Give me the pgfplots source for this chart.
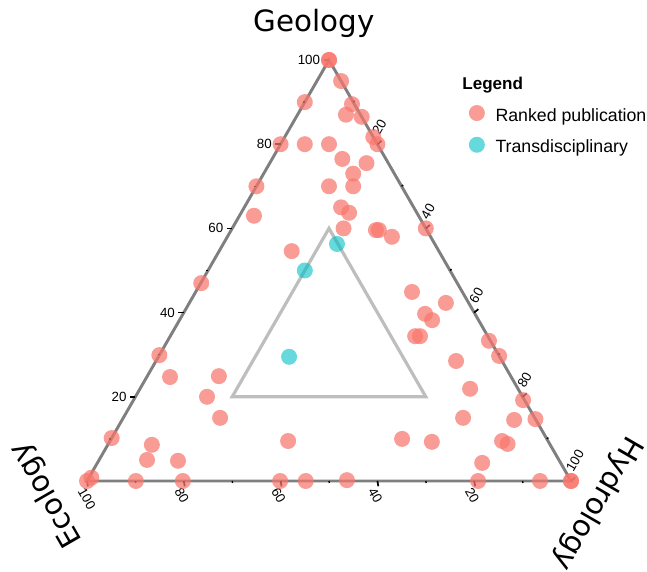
\documentclass[border=0pt]{standalone}
\usepackage{fontspec}
\setmainfont{Liberation Sans}
\newfontfamily\titlefont{DejaVu Sans}
\usepackage{pgfplots}
\usepackage{pgfplotstable}
\pgfplotsset{compat=1.18}

\definecolor{ranked}{HTML}{F8766D}
\definecolor{trans}{HTML}{00BFC4}
\definecolor{edgegray}{HTML}{7F7F7F}
\definecolor{innergray}{HTML}{BEBEBE}

% Ternary data: Geology (G), Ecology (E), Hydrology (H), in percent
\pgfplotstableread{
G E H
100 0 0
100 0 0
95 0 5
90 10 0
89.5 0.5 10
87 3 10
86.5 0 13.5
81.7 0 18.3
80 0 20
80 20 0
80 15 5
80 10 10
76.5 9 14.5
75.5 4.5 20
73 8.5 18.5
70 10 20
70 15 15
70 30 0
63 34 3
65 15 20
63.7 14 22.3
60 17 23
59.6 10.5 29.9
59.6 9.9 30.5
58 8 34
54.6 30.4 15
60 0 40
44.9 10.4 44.7
42.3 4.7 53
39.7 10.3 50
38.2 9.6 52.2
34.4 15 50.6
34.4 14 51.6
33.3 0.3 66.4
29.7 0 70.3
28.5 9.5 62
21.9 9.9 68.2
19.2 0.3 80.5
15 14.8 70.2
14.5 4.5 81
14.7 0 85.3
9.3 24.1 66.6
9.5 9.5 81
8.8 8.7 82.5
4.3 16.2 79.5
0 19.2 80.8
0 6.4 93.6
0 0 100
0 0 100
10 29.9 60.1
9.5 53.7 36.8
0 60.1 39.9
0 54.8 45.2
0.2 46.2 53.6
47 52.9 0.1
29.9 70.1 0
24.7 70.5 4.8
24.9 60.3 14.8
20 65.2 14.8
15 65 20
10.2 89.8 0
8.6 82.3 9.1
5 85.1 9.9
4.8 78.8 16.4
0 89.9 10.1
0 80.2 19.8
0 100 0
0.8 98.7 0.5
}\rankedtable

\pgfplotstableread{
G E H
56.3 20.2 23.5
50 30 20
29.5 43.5 27
}\transtable

\newcommand{\tickfont}{\fontsize{10}{12}\selectfont}

\begin{document}
\begin{tikzpicture}
\begin{axis}[
  hide axis, clip=false,
  x=3.63pt, y=3.1575pt,
  xmin=-17.975, xmax=115.7, ymin=-21.38, ymax=114.25,
  legend style={at={(axis cs:78.9,89.3)}, anchor=north west,
    draw=none, fill=none, inner xsep=0pt, inner ysep=0pt, outer sep=0pt,
    font=\fontsize{13.3}{16}\selectfont, row sep=11.8pt, column sep=0pt,
    nodes={inner sep=0pt, text depth=0pt}, cells={anchor=base west}},
  legend image code/.code={
    \path[draw=none, fill=none] (0pt,0pt) rectangle (20pt,12pt);
    \path[#1] plot coordinates {(6pt,6pt)};
  },
]
\coordinate (bbsw) at (axis cs:-17.975,-21.38);
\coordinate (bbne) at (axis cs:115.7,114.25);

% outer and inner triangles
\addplot[edgegray, line width=2.2pt, forget plot] coordinates {(0,0) (100,0) (50,100) (0,0)} -- cycle;
\addplot[innergray, line width=2.4pt, forget plot] coordinates {(30,20) (70,20) (50,60) (30,20)} -- cycle;

% ticks and tick labels
\pgfplotsinvokeforeach{20,40,60,80,100}{
  \draw[black, line width=1.3pt] (axis cs:#1/2,#1) -- ++(180:4pt);
  \node[anchor=east, font=\tickfont, inner sep=0pt, xshift=-6.5pt] at (axis cs:#1/2,#1) {#1};
  \draw[black, line width=1.3pt] (axis cs:100-#1,0) -- ++(-80:4pt);
  \node[anchor=west, rotate=-60, font=\tickfont, inner sep=0pt, xshift=3pt, yshift=-6.8pt] at (axis cs:100-#1,0) {#1};
  \draw[black, line width=1.3pt] (axis cs:50+#1/2,100-#1) -- ++(40:4pt);
  \node[anchor=west, rotate=60, font=\tickfont, inner sep=0pt, xshift=6pt, yshift=5pt] at (axis cs:50+#1/2,100-#1) {#1};
}
\pgfplotsinvokeforeach{10,30,50,70,90}{
  \draw[black, line width=1pt] (axis cs:#1/2,#1) -- ++(180:1.5pt);
  \draw[black, line width=1pt] (axis cs:100-#1,0) -- ++(-80:1.5pt);
  \draw[black, line width=1pt] (axis cs:50+#1/2,100-#1) -- ++(40:1.5pt);
}

\addplot[only marks, mark=*, mark size=6pt, color=ranked,
  mark options={draw=ranked, fill=ranked, fill opacity=0.72, draw opacity=0}]
  table[x expr=\thisrow{H}+0.5*\thisrow{G}, y=G] {\rankedtable};
\addlegendentry{Ranked publication}

\addplot[only marks, mark=*, mark size=6pt, color=trans,
  mark options={draw=trans, fill=trans, fill opacity=0.6, draw opacity=0}]
  table[x expr=\thisrow{H}+0.5*\thisrow{G}, y=G] {\transtable};
\addlegendentry{Transdisciplinary}

% axis titles
\node[anchor=base, font=\titlefont\fontsize{22}{26}\selectfont, inner sep=0pt] at (axis cs:46.9,106.7) {Geology};
\node[rotate=120, font=\titlefont\fontsize{22}{26}\selectfont, inner sep=0pt] at (axis cs:-8.3,-3.2) {Ecology};
\node[rotate=-120, font=\titlefont\fontsize{22}{26}\selectfont, inner sep=0pt] at (axis cs:105.4,-5.2) {Hydrology};

% legend title
\node[anchor=west, font=\bfseries\fontsize{12.8}{15}\selectfont, inner sep=0pt] at (axis cs:77.5,94.06) {Legend};
\end{axis}
\pgfresetboundingbox
\path[use as bounding box] (bbsw) rectangle (bbne);
\end{tikzpicture}
\end{document}
